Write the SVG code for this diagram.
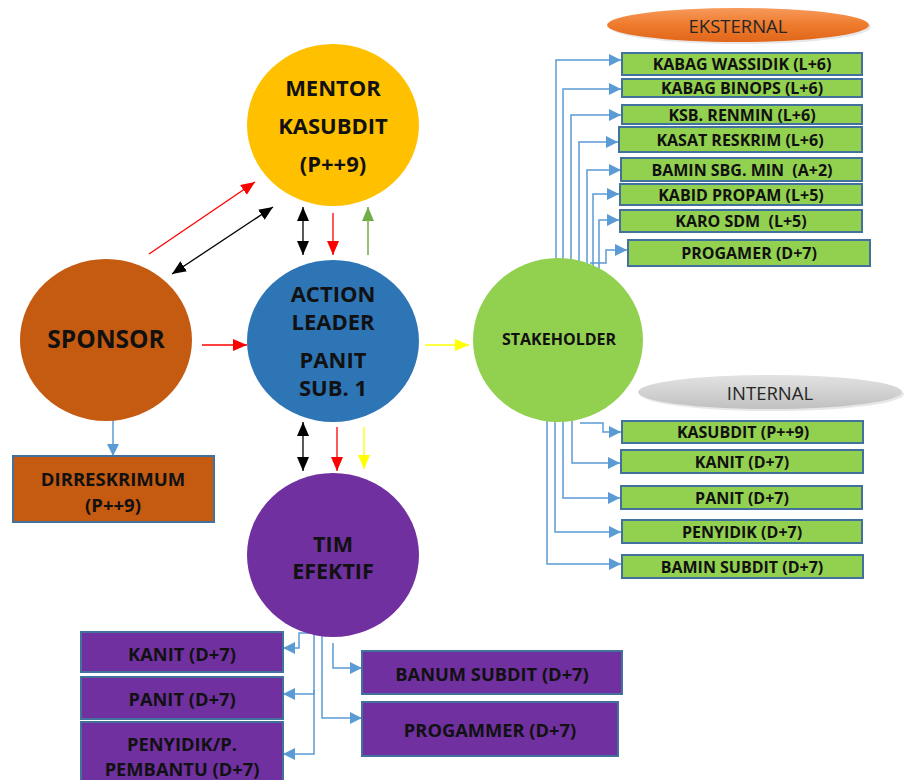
<svg xmlns="http://www.w3.org/2000/svg" width="908" height="780" viewBox="0 0 908 780">
<defs>
<style>
.t{font-family:"Open Sans","Liberation Sans",sans-serif;font-weight:bold;fill:#111;text-anchor:middle;dominant-baseline:central;white-space:pre}
.bx{font-size:16px}
.px{font-size:18.3px}
.gb{fill:#92D050;stroke:#41719C;stroke-width:2}
.pb{fill:#7030A0;stroke:#41719C;stroke-width:2}
.c{fill:none;stroke:#5B9BD5;stroke-width:1.5;marker-end:url(#mb)}
.lab{font-family:"Open Sans","Liberation Sans",sans-serif;font-size:18.5px;fill:#262626;text-anchor:middle;dominant-baseline:central}
</style>
<marker id="mb" markerUnits="userSpaceOnUse" markerWidth="12" markerHeight="12" refX="12" refY="6" orient="auto"><path d="M0,0 L12,6 L0,12 z" fill="#5B9BD5"/></marker>
<marker id="mr" markerUnits="userSpaceOnUse" markerWidth="14" markerHeight="12" refX="14" refY="6" orient="auto"><path d="M0,0 L14,6 L0,12 z" fill="#FF0000"/></marker>
<marker id="mk" markerUnits="userSpaceOnUse" markerWidth="14" markerHeight="12" refX="14" refY="6" orient="auto-start-reverse"><path d="M0,0 L14,6 L0,12 z" fill="#000"/></marker>
<marker id="mg" markerUnits="userSpaceOnUse" markerWidth="14" markerHeight="12" refX="14" refY="6" orient="auto"><path d="M0,0 L14,6 L0,12 z" fill="#70AD47"/></marker>
<marker id="my" markerUnits="userSpaceOnUse" markerWidth="14" markerHeight="12" refX="14" refY="6" orient="auto"><path d="M0,0 L14,6 L0,12 z" fill="#FFFF00"/></marker>
<linearGradient id="go" x1="0" y1="0" x2="0" y2="1"><stop offset="0" stop-color="#F79A5C"/><stop offset="0.5" stop-color="#EE7A2C"/><stop offset="1" stop-color="#E0661A"/></linearGradient>
<linearGradient id="gg" x1="0" y1="0" x2="0" y2="1"><stop offset="0" stop-color="#E2E2E2"/><stop offset="0.5" stop-color="#D2D2D2"/><stop offset="1" stop-color="#C0C0C0"/></linearGradient>
</defs>
<rect width="908" height="780" fill="#fff"/>

<g id="connectors">
<line x1="149" y1="254" x2="255" y2="182" stroke="#FF0000" stroke-width="1.3" marker-end="url(#mr)"/>
<line x1="172" y1="274" x2="273" y2="207" stroke="#000" stroke-width="1.3" marker-start="url(#mk)" marker-end="url(#mk)"/>
<line x1="303" y1="207" x2="303" y2="255" stroke="#000" stroke-width="1.3" marker-start="url(#mk)" marker-end="url(#mk)"/>
<line x1="333" y1="213" x2="333" y2="255" stroke="#FF0000" stroke-width="1.3" marker-end="url(#mr)"/>
<line x1="368" y1="255" x2="368" y2="207" stroke="#70AD47" stroke-width="1.5" marker-end="url(#mg)"/>
<line x1="202" y1="345" x2="247" y2="345" stroke="#FF0000" stroke-width="1.3" marker-end="url(#mr)"/>
<line x1="425" y1="345" x2="469" y2="345" stroke="#FFFF00" stroke-width="1.3" marker-end="url(#my)"/>
<line x1="303" y1="422" x2="303" y2="471" stroke="#000" stroke-width="1.3" marker-start="url(#mk)" marker-end="url(#mk)"/>
<line x1="337" y1="427" x2="337" y2="471" stroke="#FF0000" stroke-width="1.3" marker-end="url(#mr)"/>
<line x1="364" y1="427" x2="364" y2="469" stroke="#FFFF00" stroke-width="1.3" marker-end="url(#my)"/>
<path class="c" d="M113,415 V456"/>
<path class="c" d="M556,300 V60 H621"/>
<path class="c" d="M563,300 V89 H621"/>
<path class="c" d="M571,300 V115 H621"/>
<path class="c" d="M579,300 V142 H618"/>
<path class="c" d="M587,300 V170 H621"/>
<path class="c" d="M593,300 V194 H619"/>
<path class="c" d="M599,300 V220 H619"/>
<path class="c" d="M590,263 H606 V250 H627"/>
<path class="c" d="M580,423 H603 V432 H621"/>
<path class="c" d="M572,380 V463 H620"/>
<path class="c" d="M563,380 V498 H620"/>
<path class="c" d="M555,380 V532 H621"/>
<path class="c" d="M547,380 V564 H621"/>
<path class="c" d="M314,633 H299 V648 H283"/>
<path class="c" d="M314,620 V694 H283"/>
<path class="c" d="M314,690 V754 H283"/>
<path class="c" d="M322,620 V718 H362"/>
<path class="c" d="M333,643 V668 H362"/>
</g>

<g id="mentor">
<ellipse cx="333" cy="125" rx="86" ry="81" fill="#FFC000"/>
<text class="t" x="333" y="87" font-size="22">MENTOR</text>
<text class="t" x="333" y="125" font-size="22">KASUBDIT</text>
<text class="t" x="333" y="163" font-size="22">(P++9)</text>
</g>

<g id="sponsor">
<ellipse cx="106" cy="340" rx="86" ry="81" fill="#C55A11"/>
<text class="t" x="106" y="338" font-size="24.5">SPONSOR</text>
</g>

<g id="action-leader">
<ellipse cx="333" cy="341" rx="86" ry="81" fill="#2E75B6"/>
<text class="t" x="333" y="293" font-size="22">ACTION</text>
<text class="t" x="333" y="321" font-size="22">LEADER</text>
<text class="t" x="333" y="359" font-size="22">PANIT</text>
<text class="t" x="333" y="387" font-size="22">SUB. 1</text>
</g>

<g id="stakeholder">
<ellipse cx="558" cy="340" rx="85" ry="82" fill="#92D050"/>
<text class="t" x="559" y="339" font-size="16">STAKEHOLDER</text>
</g>

<g id="tim-efektif">
<ellipse cx="333" cy="555" rx="86" ry="82" fill="#7030A0"/>
<text class="t" x="333" y="543" font-size="21.5">TIM</text>
<text class="t" x="333" y="570" font-size="21.5">EFEKTIF</text>
</g>

<g id="dirreskrimum">
<rect x="13" y="456" width="201" height="66" fill="#C55A11" stroke="#41719C" stroke-width="2"/>
<text class="t" x="113" y="478" font-size="18.5">DIRRESKRIMUM</text>
<text class="t" x="113" y="504" font-size="18.5">(P++9)</text>
</g>

<g id="eksternal">
<ellipse cx="740" cy="27" rx="131" ry="17" fill="#D0D0D0" opacity="0.5"/>
<ellipse cx="738" cy="25" rx="131" ry="17" fill="url(#go)"/>
<text class="lab" x="738" y="25">EKSTERNAL</text>
</g>

<g id="ext-kabag-wassidik"><rect class="gb" x="622" y="53" width="240" height="22"/><text class="t bx" x="742" y="64">KABAG WASSIDIK (L+6)</text></g>
<g id="ext-kabag-binops"><rect class="gb" x="622" y="79" width="240" height="18"/><text class="t bx" x="742" y="88">KABAG BINOPS (L+6)</text></g>
<g id="ext-ksb-renmin"><rect class="gb" x="622" y="105" width="240" height="19"/><text class="t bx" x="742" y="114.5">KSB. RENMIN (L+6)</text></g>
<g id="ext-kasat-reskrim"><rect class="gb" x="619" y="127" width="243" height="25"/><text class="t bx" x="740" y="140">KASAT RESKRIM (L+6)</text></g>
<g id="ext-bamin-sbg-min"><rect class="gb" x="621" y="158" width="241" height="23"/><text class="t bx" x="742" y="169.5" xml:space="preserve">BAMIN SBG. MIN  (A+2)</text></g>
<g id="ext-kabid-propam"><rect class="gb" x="620" y="184" width="242" height="21"/><text class="t bx" x="741" y="194.5">KABID PROPAM (L+5)</text></g>
<g id="ext-karo-sdm"><rect class="gb" x="620" y="210" width="242" height="22"/><text class="t bx" x="741" y="221" xml:space="preserve">KARO SDM  (L+5)</text></g>
<g id="ext-progamer"><rect class="gb" x="628" y="240" width="242" height="26"/><text class="t bx" x="749" y="253">PROGAMER (D+7)</text></g>

<g id="internal">
<ellipse cx="772" cy="394" rx="132" ry="17" fill="#D0D0D0" opacity="0.5"/>
<ellipse cx="770" cy="392" rx="132" ry="17" fill="url(#gg)"/>
<text class="lab" x="770" y="392">INTERNAL</text>
</g>

<g id="int-kasubdit"><rect class="gb" x="622" y="421" width="241" height="22"/><text class="t bx" x="743" y="432">KASUBDIT (P++9)</text></g>
<g id="int-kanit"><rect class="gb" x="621" y="450" width="242" height="23"/><text class="t bx" x="742" y="461.5">KANIT (D+7)</text></g>
<g id="int-panit"><rect class="gb" x="621" y="486" width="241" height="23"/><text class="t bx" x="742" y="497.5">PANIT (D+7)</text></g>
<g id="int-penyidik"><rect class="gb" x="622" y="520" width="240" height="23"/><text class="t bx" x="742" y="531.5">PENYIDIK (D+7)</text></g>
<g id="int-bamin-subdit"><rect class="gb" x="622" y="555" width="241" height="23"/><text class="t bx" x="742" y="566.5">BAMIN SUBDIT (D+7)</text></g>

<g id="tim-kanit"><rect class="pb" x="81" y="632" width="202" height="40"/><text class="t px" x="182" y="653">KANIT (D+7)</text></g>
<g id="tim-panit"><rect class="pb" x="81" y="677" width="202" height="42"/><text class="t px" x="182" y="698">PANIT (D+7)</text></g>
<g id="tim-penyidik"><rect class="pb" x="81" y="722" width="202" height="70"/><text class="t px" x="182" y="743">PENYIDIK/P.</text><text class="t px" x="182" y="768">PEMBANTU (D+7)</text></g>
<g id="tim-banum-subdit"><rect class="pb" x="362" y="651" width="260" height="43"/><text class="t px" x="492" y="673">BANUM SUBDIT (D+7)</text></g>
<g id="tim-progammer"><rect class="pb" x="362" y="702" width="256" height="54"/><text class="t px" x="490" y="729">PROGAMMER (D+7)</text></g>
</svg>
